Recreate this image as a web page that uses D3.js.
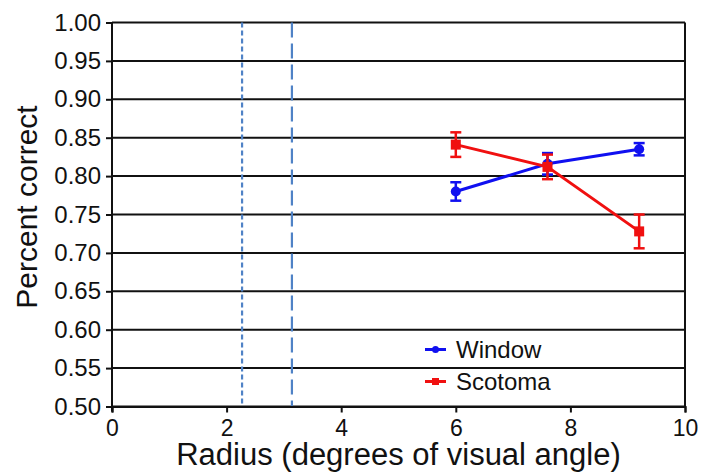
<!DOCTYPE html>
<html>
<head>
<meta charset="utf-8">
<script src="https://cdn.jsdelivr.net/npm/d3@7"></script>
<style>
  html, body { margin: 0; padding: 0; background: #fff; }
  svg { display: block; font-family: "Liberation Sans", Arial, Helvetica, sans-serif; }
</style>
</head>
<body>
<svg id="chart" width="717" height="472"></svg>
<script>
const xTicks = [0, 2, 4, 6, 8, 10];
const yTicks = [0.50, 0.55, 0.60, 0.65, 0.70, 0.75, 0.80, 0.85, 0.90, 0.95, 1.00];
const radius = [6, 7.6, 9.2];
const windowMean = [0.780, 0.816, 0.835];
const windowErr = [0.012, 0.014, 0.008];
const scotomaMean = [0.841, 0.812, 0.728];
const scotomaErr = [0.016, 0.016, 0.022];
const boundaries = [2.27, 3.14];
const seriesNames = ["Window", "Scotoma"];

const svg = d3.select("#chart");
const pL = 112, pR = 685, pT = 22.5, pB = 406.5;
const x = d3.scaleLinear().domain([0, 10]).range([pL, pR]);
const y = d3.scaleLinear().domain([0.5, 1.0]).range([pB, pT]);

// horizontal gridlines
svg.append("g").selectAll("line").data(yTicks).join("line")
  .attr("x1", pL).attr("x2", pR)
  .attr("y1", d => y(d)).attr("y2", d => y(d))
  .attr("stroke", "#111").attr("stroke-width", 2);

// right border
svg.append("line").attr("x1", pR).attr("x2", pR)
  .attr("y1", y(1)).attr("y2", y(0.5)).attr("stroke", "#111").attr("stroke-width", 2);

// boundary dashed lines
const dashes = ["5,3", "15,6"];
svg.append("g").selectAll("line").data(boundaries).join("line")
  .attr("x1", d => x(d)).attr("x2", d => x(d))
  .attr("y1", y(1)).attr("y2", y(0.5))
  .attr("stroke", "#4f82c6").attr("stroke-width", 2.2)
  .attr("stroke-dasharray", (d, i) => dashes[i]);

// axes
const yAxis = d3.axisLeft(y).tickValues(yTicks).tickFormat(d3.format(".2f")).tickSize(6).tickPadding(5);
const gy = svg.append("g").attr("transform", `translate(${pL},0)`).call(yAxis);
const xAxis = d3.axisBottom(x).tickValues(xTicks).tickFormat(d3.format("d")).tickSize(6).tickPadding(7);
const gx = svg.append("g").attr("transform", `translate(0,${pB})`).call(xAxis);
[gy, gx].forEach(g => {
  g.select(".domain").attr("stroke", "#111").attr("stroke-width", 2);
  g.selectAll(".tick line").attr("stroke", "#111").attr("stroke-width", 2);
  g.selectAll(".tick text").attr("fill", "#111")
    .attr("font-family", "Liberation Sans, Arial, sans-serif");
});
gy.selectAll(".tick text").attr("font-size", 24);
gx.selectAll(".tick text").attr("font-size", 23);
gy.select(".domain").attr("d", `M0,${pT}V${pB + 5}`);

// series
const series = [
  { name: seriesNames[0], mean: windowMean, err: windowErr, color: "#1010f0", marker: "circle" },
  { name: seriesNames[1], mean: scotomaMean, err: scotomaErr, color: "#f01010", marker: "square" }
];
const line = d3.line().x(d => x(d[0])).y(d => y(d[1]));
series.forEach(s => {
  const pts = radius.map((r, i) => [r, s.mean[i], s.err[i]]);
  const g = svg.append("g");
  g.append("path").datum(pts).attr("d", line).attr("fill", "none")
    .attr("stroke", s.color).attr("stroke-width", 3);
  const eb = g.selectAll("g.eb").data(pts).join("g");
  eb.append("line").attr("x1", d => x(d[0])).attr("x2", d => x(d[0]))
    .attr("y1", d => y(d[1] - d[2])).attr("y2", d => y(d[1] + d[2]))
    .attr("stroke", s.color).attr("stroke-width", 2.5);
  [1, -1].forEach(sg => {
    eb.append("line").attr("x1", d => x(d[0]) - 5.5).attr("x2", d => x(d[0]) + 5.5)
      .attr("y1", d => y(d[1] + sg * d[2])).attr("y2", d => y(d[1] + sg * d[2]))
      .attr("stroke", s.color).attr("stroke-width", 2.5);
  });
  if (s.marker === "circle") {
    g.selectAll("circle").data(pts).join("circle")
      .attr("cx", d => x(d[0])).attr("cy", d => y(d[1])).attr("r", 5).attr("fill", s.color);
  } else {
    g.selectAll("rect").data(pts).join("rect")
      .attr("x", d => x(d[0]) - 5).attr("y", d => y(d[1]) - 5)
      .attr("width", 10).attr("height", 10).attr("fill", s.color);
  }
});

// legend
const legY = [349.5, 381.5];
const leg = svg.append("g").selectAll("g").data(series).join("g")
  .attr("transform", (d, i) => `translate(425,${legY[i]})`);
leg.append("line").attr("x1", 0).attr("x2", 21).attr("stroke", d => d.color).attr("stroke-width", 3);
leg.each(function(d) {
  const g = d3.select(this);
  if (d.marker === "circle") g.append("circle").attr("cx", 10.5).attr("r", 3.5).attr("fill", d.color);
  else g.append("rect").attr("x", 7).attr("y", -3.5).attr("width", 7).attr("height", 7).attr("fill", d.color);
});
leg.append("text").attr("x", 31).attr("y", 8.8).attr("font-size", 24).attr("fill", "#111").text(d => d.name);

// axis titles
svg.append("text").attr("x", (pL + pR) / 2).attr("y", 465)
  .attr("text-anchor", "middle").attr("font-size", 31).attr("fill", "#111")
  .text("Radius (degrees of visual angle)");
svg.append("text").attr("transform", "translate(37,207) rotate(-90)")
  .attr("text-anchor", "middle").attr("font-size", 30).attr("fill", "#111")
  .text("Percent correct");
</script>
</body>
</html>
